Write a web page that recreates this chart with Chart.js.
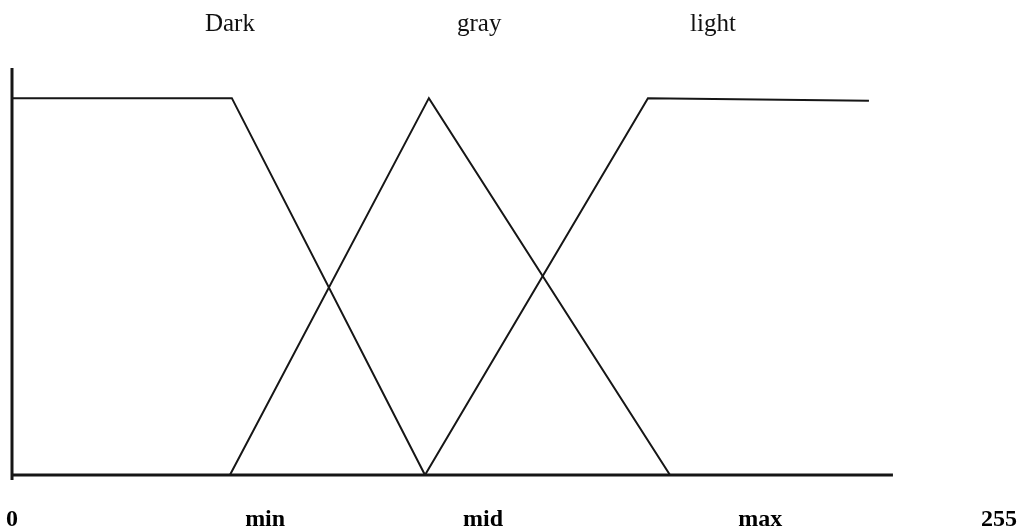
<!DOCTYPE html>
<html>
<head>
<meta charset="utf-8">
<script src="https://cdn.jsdelivr.net/npm/chart.js@4/dist/chart.umd.min.js"></script>
<style>
  html, body { margin: 0; padding: 0; background: #ffffff; }
  #wrap { width: 1023px; height: 530px; }
</style>
</head>
<body>
<div id="wrap"><canvas id="c" width="1023" height="530"></canvas></div>
<script>
// ---- data (grey level 0..255, membership 0..1) ----
const darkX  = [0, 56.8, 106.7];
const darkY  = [1, 1, 0];
const grayX  = [56.3, 107.7, 170.0];
const grayY  = [0, 1, 0];
const lightX = [106.7, 164.3, 221.4];
const lightY = [0, 1, 0.993];

// axis lines as drawn in the figure
const xAxisX = [0, 227.6];
const xAxisY = [0, 0];
const yAxisX = [0, 0];
const yAxisY = [-0.013, 1.08];

// bottom tick labels and their positions
const bottomTickValues = [0, 65.4, 121.7, 193.3, 255];
const bottomTickLabels = ['0', 'min', 'mid', 'max', '255'];
// top (set name) labels and their positions
const topTickValues = [56.3, 120.7, 181.1];
const topTickLabels = ['Dark', 'gray', 'light'];

const toPts = (xs, ys) => xs.map((x, i) => ({ x: x, y: ys[i] }));

const ink = '#161616';
const lineDs = (label, xs, ys, w) => ({
  label: label,
  data: toPts(xs, ys),
  borderColor: ink,
  borderWidth: w,
  pointRadius: 0,
  tension: 0,
  fill: false,
  clip: false,
  xAxisID: 'x',
  yAxisID: 'y'
});

new Chart(document.getElementById('c'), {
  type: 'line',
  data: {
    datasets: [
      lineDs('x axis', xAxisX, xAxisY, 3),
      lineDs('y axis', yAxisX, yAxisY, 3),
      lineDs('Dark', darkX, darkY, 2),
      lineDs('gray', grayX, grayY, 2),
      lineDs('light', lightX, lightY, 2)
    ]
  },
  options: {
    responsive: false,
    animation: false,
    layout: { padding: { left: 12, right: 24, top: 0, bottom: 0 } },
    plugins: { legend: { display: false }, tooltip: { enabled: false } },
    scales: {
      x: {
        type: 'linear',
        position: 'bottom',
        min: 0,
        max: 255,
        grid: { display: false, drawTicks: false },
        border: { display: false },
        afterBuildTicks: (s) => { s.ticks = bottomTickValues.map(v => ({ value: v })); },
        afterFit: (s) => { s.height = 55; s.paddingLeft = 0; s.paddingRight = 0; },
        ticks: {
          padding: 30,
          autoSkip: false,
          maxRotation: 0,
          color: '#000000',
          font: { family: '"Liberation Serif", "Times New Roman", serif', size: 24, weight: 'bold' },
          callback: (v, i) => bottomTickLabels[i]
        }
      },
      xTop: {
        type: 'linear',
        position: 'top',
        min: 0,
        max: 255,
        grid: { display: false, drawTicks: false },
        border: { display: false },
        afterBuildTicks: (s) => { s.ticks = topTickValues.map(v => ({ value: v })); },
        afterFit: (s) => { s.height = 68; s.paddingLeft = 0; s.paddingRight = 0; },
        ticks: {
          padding: 29,
          autoSkip: false,
          maxRotation: 0,
          color: '#111111',
          font: { family: '"Liberation Serif", "Times New Roman", serif', size: 25 },
          callback: (v, i) => topTickLabels[i]
        }
      },
      y: {
        type: 'linear',
        display: false,
        min: 0,
        max: 1.08
      }
    }
  }
});
</script>
</body>
</html>
